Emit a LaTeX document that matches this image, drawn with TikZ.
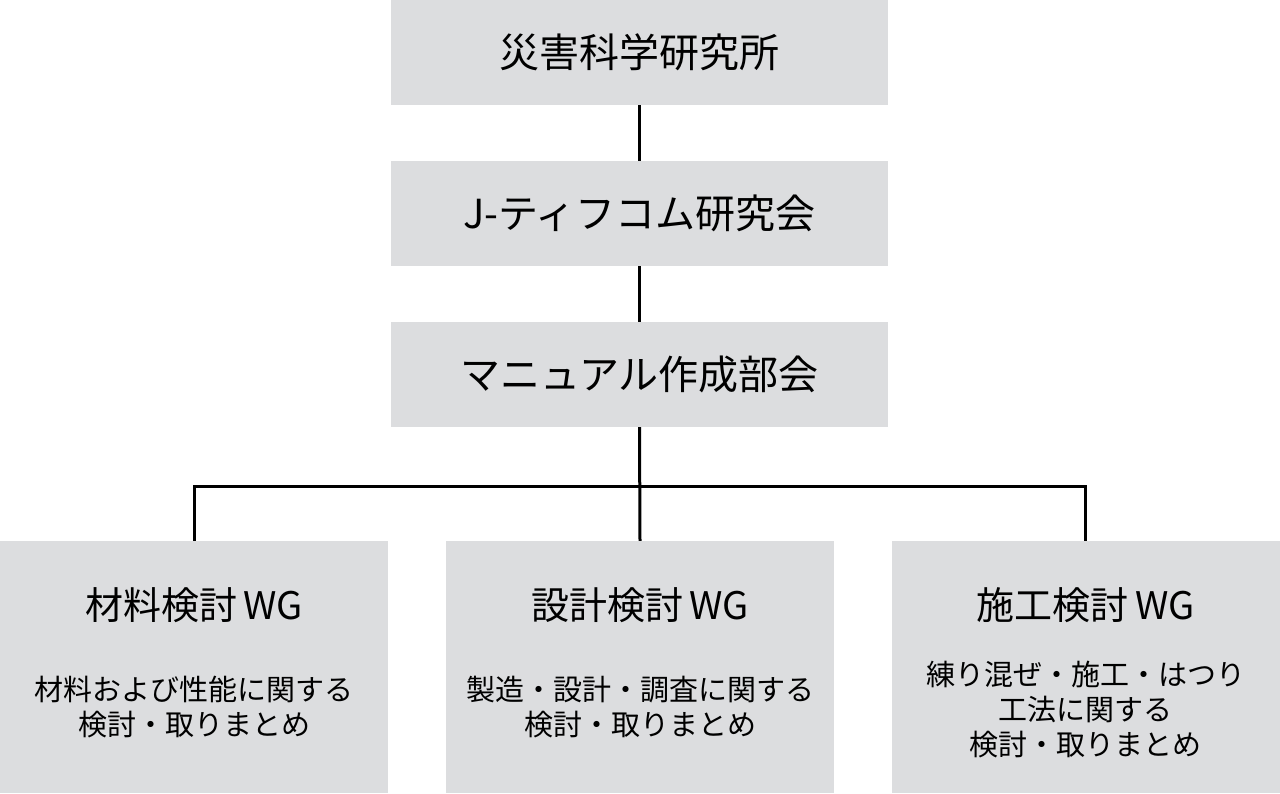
\documentclass[tikz,border=0pt]{standalone}
\usepackage{fontspec}
\setmainfont{Noto Sans CJK JP}
\definecolor{boxgray}{HTML}{DCDDDF}
\begin{document}
\begin{tikzpicture}[x=1pt,y=-1pt,
  box/.style={fill=boxgray,draw=none,inner sep=0pt,minimum width=497pt,minimum height=105pt,font=\fontsize{40}{48}\selectfont},
  wgbox/.style={fill=boxgray,draw=none,inner sep=0pt,minimum width=388pt,minimum height=252pt},
  wgtitle/.style={inner sep=0pt,font=\fontsize{38}{46}\selectfont},
  wgdesc/.style={inner sep=0pt,align=center,font=\fontsize{29}{35}\selectfont},
  link/.style={draw=black,line width=3pt,line join=miter}]
\useasboundingbox (0,0) rectangle (1280,793);
\node[box] (top) at (639.5,52.5) {災害科学研究所};
\node[box] (mid) at (639.5,213.5) {J-ティフコム研究会};
\node[box] (man) at (639.5,374.5) {マニュアル作成部会};
\node[wgbox] (wg1) at (194,667) {};
\node[wgbox] (wg2) at (640,667) {};
\node[wgbox] (wg3) at (1085.5,667) {};
\node[wgtitle] (t1) at (194,605) {材料検討\,WG};
\node[wgtitle] (t2) at (640,605) {設計検討\,WG};
\node[wgtitle] (t3) at (1085.5,605) {施工検討\,WG};
\node[wgdesc] (d1) at (194,707) {材料および性能に関する\\検討・取りまとめ};
\node[wgdesc] (d2) at (640,707) {製造・設計・調査に関する\\検討・取りまとめ};
\node[wgdesc] (d3) at (1085.5,710) {練り混ぜ・施工・はつり\\工法に関する\\検討・取りまとめ};
\coordinate (j) at (640,486);
\draw[link] (top.south) -- (mid.north);
\draw[link] (mid.south) -- (man.north);
\draw[link] (man.south) -- (wg2.north);
\draw[link] (wg1.north) |- (j) -| (wg3.north);
\end{tikzpicture}
\end{document}
